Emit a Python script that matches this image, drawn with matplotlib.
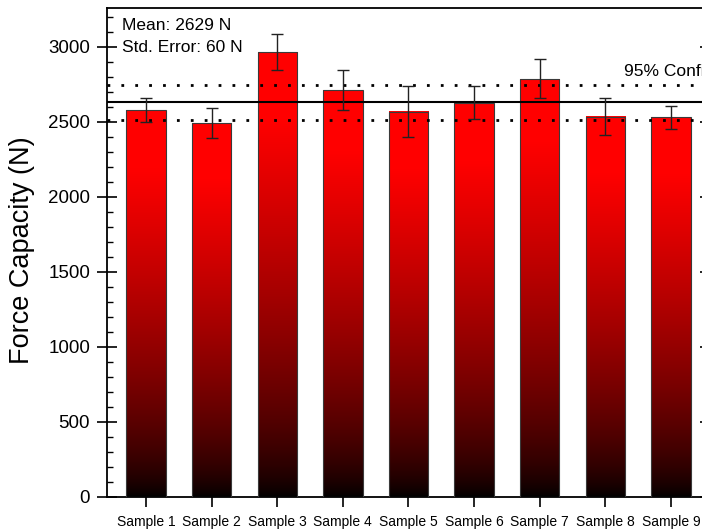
import numpy as np
import matplotlib
matplotlib.use('Agg')
import matplotlib.pyplot as plt
from matplotlib.ticker import MultipleLocator

plt.rcParams['font.family'] = ['Liberation Sans', 'DejaVu Sans']

# force capacity per sample (N) and the error bar half-widths
samples = ['Sample 1', 'Sample 2', 'Sample 3', 'Sample 4', 'Sample 5',
           'Sample 6', 'Sample 7', 'Sample 8', 'Sample 9']
force = [2576, 2489, 2965, 2711, 2567, 2627, 2785, 2533, 2528]
force_err = [78, 101, 120, 133, 167, 111, 129, 122, 77]

mean_force = 2629
std_error = 60
ci_half = 1.96 * std_error

fig = plt.figure(figsize=(7.02, 5.29), dpi=100)
W, H = 702, 529
ax = fig.add_axes([106.7 / W, (H - 496.7) / H, 603.5 / W, 488.4 / H])

x = np.arange(1, len(samples) + 1)
bar_w = 0.6

# red-to-black vertical gradient inside each bar
t = np.linspace(0, 1, 256)
shade = np.clip(t / 0.85, 0, 1) ** 0.7
grad = np.zeros((256, 1, 3))
grad[:, 0, 0] = shade
for xi, h in zip(x, force):
    ax.imshow(grad, origin='lower', aspect='auto', interpolation='bilinear',
              extent=(xi - bar_w / 2, xi + bar_w / 2, 0, h), zorder=2)
ax.bar(x, force, width=bar_w, fill=False, edgecolor='#3a3a3a', linewidth=0.8, zorder=3)

# mean and 95% confidence band
ax.axhline(mean_force, color='black', lw=1.5, zorder=4)
for yv in (mean_force - ci_half, mean_force + ci_half):
    ax.axhline(yv, color='black', lw=2.0, ls=(0, (1, 4)), zorder=4)

ax.errorbar(x, force, yerr=force_err, fmt='none', ecolor='#222222',
            elinewidth=1.0, capsize=4, capthick=1.0, zorder=5)

ax.text(0.025, 0.9556, f'Mean: {mean_force} N', transform=ax.transAxes,
        fontsize=12.5, va='baseline', ha='left')
ax.text(0.025, 0.9105, f'Std. Error: {std_error} N', transform=ax.transAxes,
        fontsize=12.5, va='baseline', ha='left')
ax.text(8.28, mean_force + ci_half + 60, '95% Confidence Interval',
        fontsize=12.5, va='baseline', ha='left')

ax.set_xlim(0.4, 9.6)
ax.set_ylim(0, 3255)
ax.set_xticks(x)
ax.set_xticklabels(samples, fontsize=10)
ax.set_yticks(np.arange(0, 3001, 500))
ax.yaxis.set_minor_locator(MultipleLocator(100))
ax.tick_params(axis='y', which='major', direction='inout', length=14,
               width=1.2, labelsize=13.5, pad=5, right=True)
ax.tick_params(axis='y', which='minor', direction='in', length=4.5,
               width=1.0, right=True)
ax.tick_params(axis='x', which='major', direction='out', length=7,
               width=1.2, pad=6)

for sp in ax.spines.values():
    sp.set_linewidth(1.3)

fig.text(22 / W, 1 - 250 / H, 'Force Capacity (N)', rotation=90,
         ha='center', va='center', fontsize=19.5)

fig.savefig('out.png', dpi=100)
